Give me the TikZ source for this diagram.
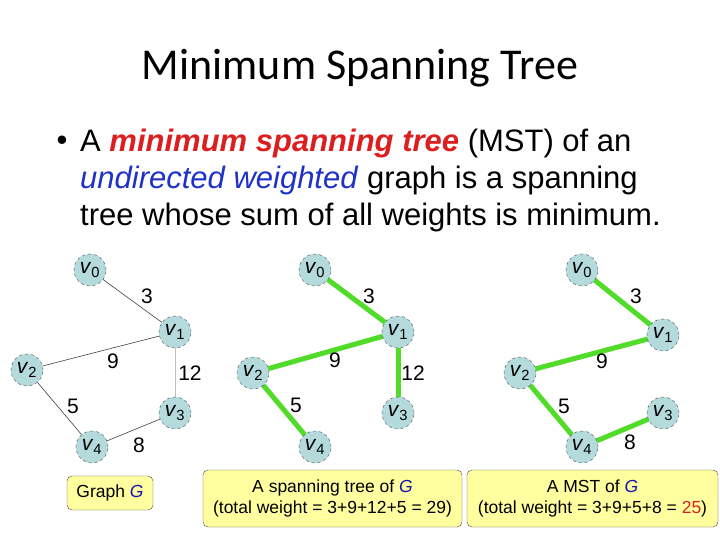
\documentclass[tikz,border=0pt]{standalone}
\usepackage{fontspec}
\setmainfont{Liberation Sans}
\newfontfamily\titlefont{Carlito}
\definecolor{nodefill}{RGB}{180,218,220}
\definecolor{mstgreen}{RGB}{80,220,40}
\definecolor{redtxt}{RGB}{220,30,30}
\definecolor{bluetxt}{RGB}{30,50,200}
\definecolor{boxfill}{RGB}{255,255,160}
\definecolor{gblue}{RGB}{20,20,170}
\tikzset{
  vx/.style={circle,draw=black!70,dashed,fill=nodefill,minimum size=32pt,inner sep=0pt,font=\fontsize{21}{21}\selectfont},
  thin edge/.style={draw=black!75,line width=0.6pt},
  gray edge/.style={draw=black!25,line width=0.8pt},
  tree edge/.style={draw=mstgreen,line width=5pt},
  wt/.style={font=\fontsize{21}{21}\selectfont},
  capbox/.style={draw=black!70,fill=boxfill,rounded corners=5pt,align=center,font=\fontsize{17.5}{21}\selectfont}
}
\newcommand{\vv}[1]{\textit{v}\textsubscript{#1}}
\begin{document}
\begin{tikzpicture}[x=1pt,y=-1pt]
\useasboundingbox (0,0) rectangle (720,540);
\node[font=\titlefont\fontsize{44}{44}\selectfont] (title) at (360,68) {Minimum Spanning Tree};
\node[font=\fontsize{31}{31}\selectfont] (bul) at (62,143) {•};
\node[anchor=west,font=\fontsize{31}{37}\selectfont,align=left,inner sep=0pt] (txt) at (80,180)
 {A \textcolor{redtxt}{\textbf{\textit{minimum spanning tree}}} (MST) of an\\
  \textcolor{bluetxt}{\textit{undirected weighted}} graph is a spanning\\
  tree whose sum of all weights is minimum.};
% graph 1
\node[vx] (a0) at (90,270) {\vv0};
\node[vx] (a1) at (175,332) {\vv1};
\node[vx] (a2) at (27,370) {\vv2};
\node[vx] (a3) at (175,413) {\vv3};
\node[vx] (a4) at (92,447) {\vv4};
\draw[thin edge] (a0)--(a1); \draw[thin edge] (a1)--(a2);
\draw[gray edge] (a1)--(a3); \draw[thin edge] (a2)--(a4); \draw[thin edge] (a4)--(a3);
\node[wt] (w1) at (147,296) {3}; \node[wt] (w2) at (113,361) {9};
\node[wt] (w3) at (190,373) {12}; \node[wt] (w4) at (73,406) {5};
\node[wt] (w5) at (139,445) {8};
% graph 2
\draw[tree edge] (315,270)--(398,332);
\draw[tree edge] (398,332)--(253,373);
\draw[tree edge] (398,332)--(398,413);
\draw[tree edge] (253,373)--(315,447);
\node[vx] (b0) at (315,270) {\vv0};
\node[vx] (b1) at (398,332) {\vv1};
\node[vx] (b2) at (253,373) {\vv2};
\node[vx] (b3) at (398,413) {\vv3};
\node[vx] (b4) at (315,447) {\vv4};
\node[wt] (x1) at (369,296) {3}; \node[wt] (x2) at (335,360) {9};
\node[wt] (x3) at (413,373) {12}; \node[wt] (x4) at (296,405) {5};
% graph 3
\draw[tree edge] (582,270)--(663,335);
\draw[tree edge] (663,335)--(520,373);
\draw[tree edge] (520,373)--(582,447);
\draw[tree edge] (582,447)--(663,413);
\node[vx] (c0) at (582,270) {\vv0};
\node[vx] (c1) at (663,335) {\vv1};
\node[vx] (c2) at (520,373) {\vv2};
\node[vx] (c3) at (663,413) {\vv3};
\node[vx] (c4) at (582,447) {\vv4};
\node[wt] (y1) at (636,296) {3}; \node[wt] (y2) at (602,361) {9};
\node[wt] (y4) at (564,406) {5}; \node[wt] (y5) at (630,442) {8};
% captions
\node[capbox,minimum width=86pt,minimum height=34pt] (cap1) at (110,493) {Graph \textcolor{gblue}{\textit{G}}};
\node[capbox,minimum width=259pt,minimum height=57pt] (cap2) at (332.5,498.5) {A spanning tree of \textcolor{gblue}{\textit{G}}\\(total weight = 3+9+12+5 = 29)};
\node[capbox,minimum width=251pt,minimum height=57pt] (cap3) at (592.5,498.5) {A MST of \textcolor{gblue}{\textit{G}}\\(total weight = 3+9+5+8 = \textcolor{redtxt}{25})};
\end{tikzpicture}
\end{document}
